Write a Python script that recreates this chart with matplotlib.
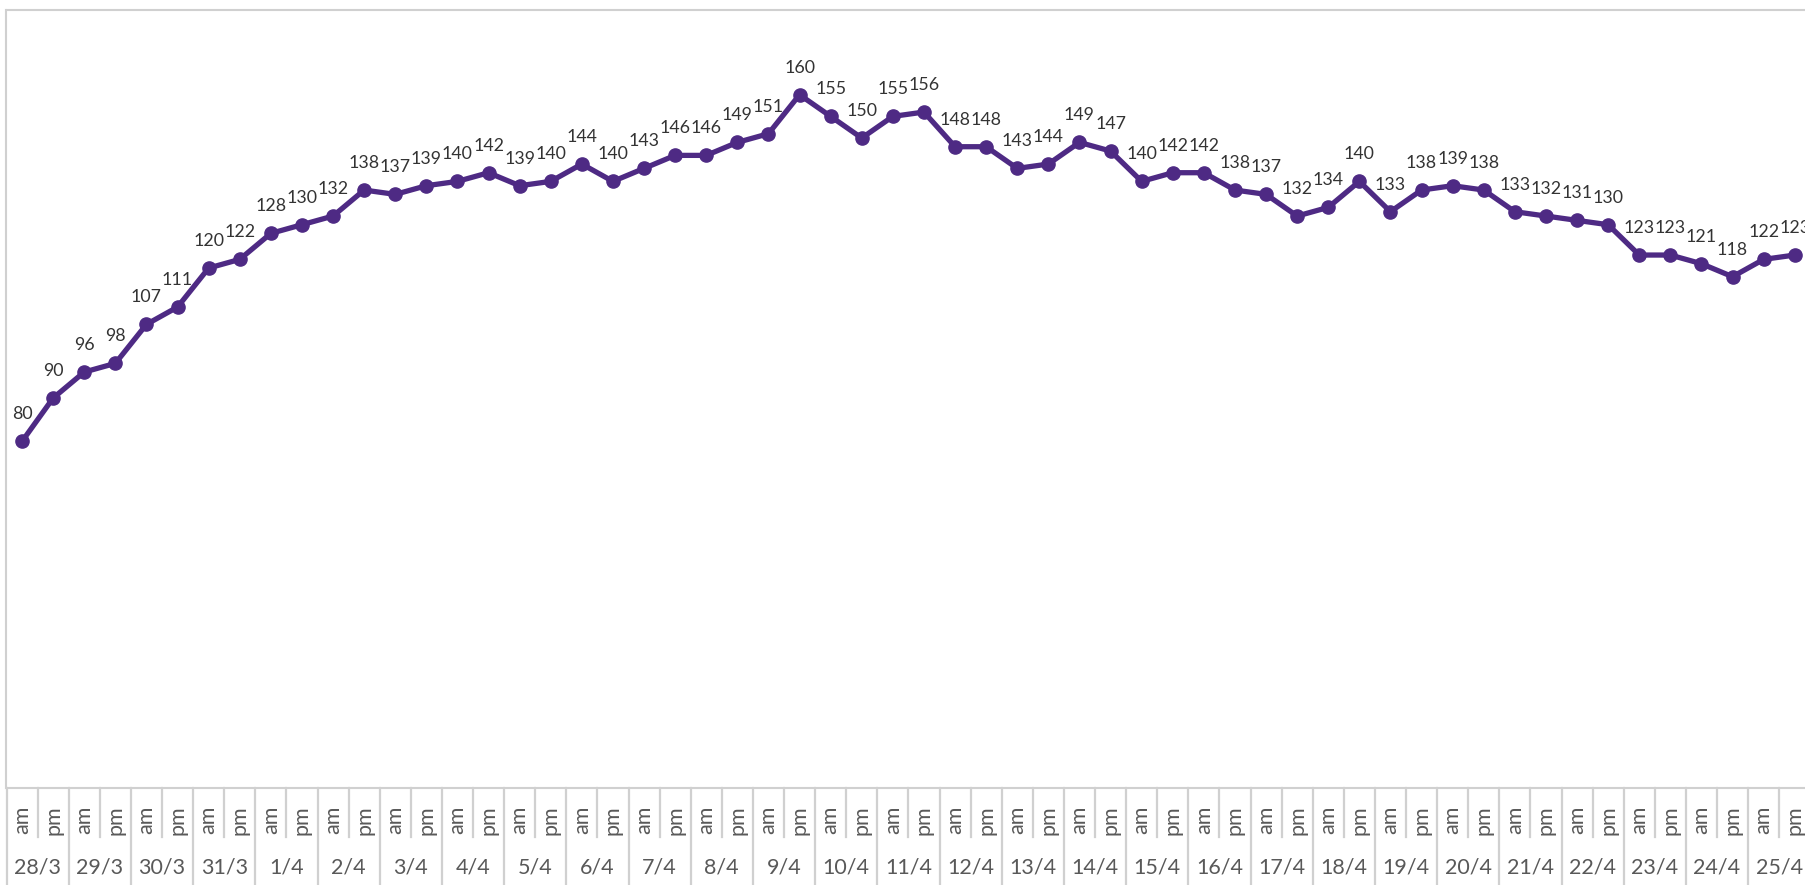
import matplotlib.pyplot as plt

days = ['28/3', '29/3', '30/3', '31/3', '1/4', '2/4', '3/4', '4/4', '5/4', '6/4',
        '7/4', '8/4', '9/4', '10/4', '11/4', '12/4', '13/4', '14/4', '15/4', '16/4',
        '17/4', '18/4', '19/4', '20/4', '21/4', '22/4', '23/4', '24/4', '25/4']
halves = ['am', 'pm']
values = [80, 90, 96, 98, 107, 111, 120, 122, 128, 130, 132, 138, 137, 139, 140, 142,
          139, 140, 144, 140, 143, 146, 146, 149, 151, 160, 155, 150, 155, 156, 148, 148,
          143, 144, 149, 147, 140, 142, 142, 138, 137, 132, 134, 140, 133, 138, 139, 138,
          133, 132, 131, 130, 123, 123, 121, 118, 122, 123]

W, H = 1806, 885
plt.rcParams['font.family'] = ['Lato', 'DejaVu Sans']
fig = plt.figure(figsize=(W / 100, H / 100), dpi=100)

# plot area in pixels (chart is cropped on the right)
x0, x1 = 6.5, 6.5 + len(days) * 62.2
ybot, ytop = 788, 10
ax = fig.add_axes([x0 / W, (H - ybot) / H, (x1 - x0) / W, (ybot - ytop) / H])

n = len(values)
xs = list(range(n))
purple = '#4E2A84'
ax.plot(xs, values, color=purple, lw=3.8, marker='o', ms=9.5, solid_capstyle='round')
for x, v in zip(xs, values):
    ax.annotate(str(v), (x, v), xytext=(0, 19.5), textcoords='offset points',
                ha='center', va='center', fontsize=12.8, color='#333333')

ax.set_xlim(-0.5, n - 0.5)
ax.set_ylim(0, (ybot - ytop) / 4.333)
ax.set_xticks([])
ax.set_yticks([])
ax.spines['right'].set_visible(False)
for s in ['left', 'top', 'bottom']:
    ax.spines[s].set_color('#D0D0D0')
    ax.spines[s].set_linewidth(1.5)

# two-level category axis
axh = ybot - ytop
tr = ax.get_xaxis_transform()
grey = '#D0D0D0'
for i in range(n + 1):
    depth = 97 if i % 2 == 0 else 49
    ax.plot([i - 0.5, i - 0.5], [0, -depth / axh], transform=tr, color=grey,
            lw=1.6, clip_on=False)
for i in range(n):
    ax.text(i, -32 / axh, halves[i % 2], transform=tr, rotation=90, ha='center',
            va='center', fontsize=15.5, color='#595959')
for d, lab in enumerate(days):
    ax.text(2 * d + 0.5, -80 / axh, lab, transform=tr, ha='center', va='center',
            fontsize=15.5, color='#595959')

fig.savefig('out.png', dpi=100)
